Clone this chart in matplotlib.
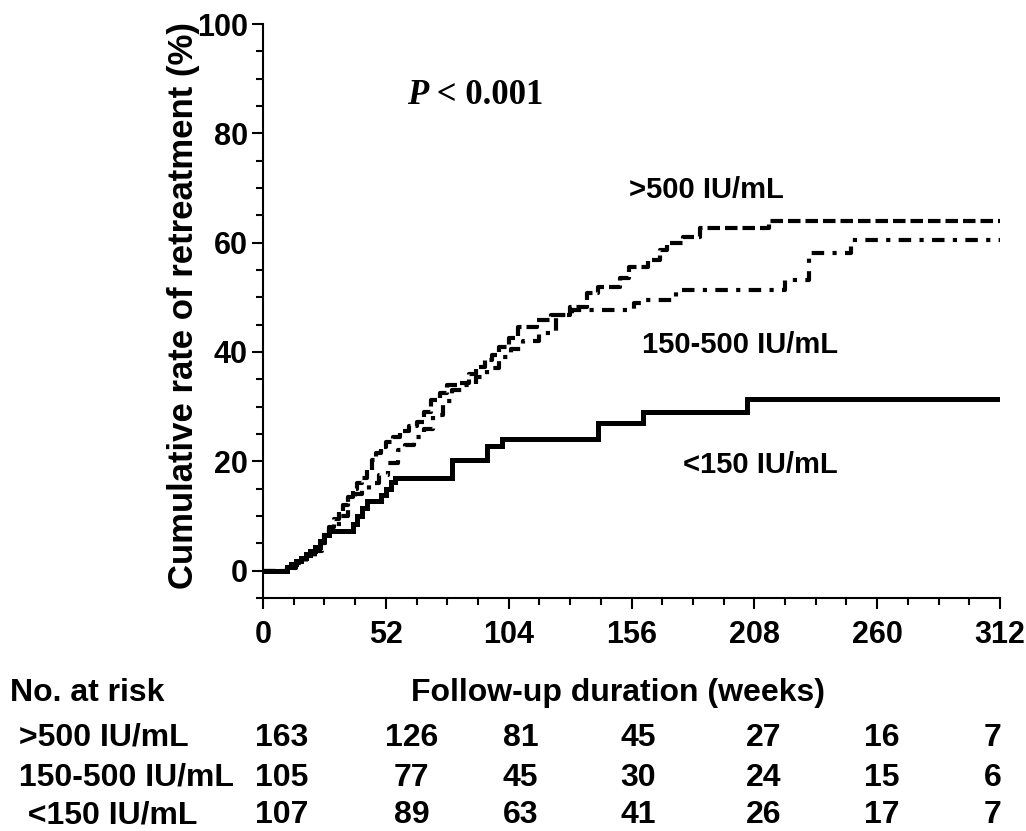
import matplotlib
matplotlib.use("Agg")
import matplotlib.pyplot as plt
from matplotlib.ticker import MultipleLocator

# step points of the cumulative curves (weeks, %)
t_high = [0, 10, 14, 18, 22, 24, 26, 28, 30, 32, 34, 36, 38, 40, 42, 44, 46, 48, 50, 52,
          55, 58, 62, 65, 68, 71, 75, 78, 82, 87, 90, 94, 97, 100, 104, 108, 116, 122,
          130, 137, 142, 151, 155, 163, 168, 171, 178, 185, 214, 312]
y_high = [0, 0.6, 1.5, 2.6, 3.8, 5.0, 6.5, 8.0, 9.5, 11.0, 12.0, 13.5, 15.0, 16.0, 17.0,
          18.5, 20.2, 21.5, 22.6, 23.5, 24.5, 25.5, 26.5, 27.2, 29.0, 31.2, 32.5, 33.9,
          34.3, 36.0, 37.3, 38.5, 39.5, 41.0, 42.5, 44.6, 45.8, 46.7, 48.3, 50.8, 51.9,
          53.5, 55.6, 56.8, 58.6, 59.9, 61.0, 62.6, 63.9, 63.9]

t_mid = [0, 10, 14, 18, 22, 25, 28, 30, 33, 36, 39, 42, 45, 49, 53, 57, 60, 64, 68, 72,
         76, 80, 85, 90, 95, 100, 105, 110, 117, 124, 131, 157, 160, 175, 221, 231, 249, 312]
y_mid = [0, 0.5, 1.4, 2.5, 3.6, 5.0, 7.5, 8.5, 10.0, 13.3, 14.0, 14.7, 16.0, 17.5, 19.7,
         22.0, 23.0, 24.4, 26.0, 28.5, 31.0, 33.0, 34.0, 35.5, 37.0, 39.0, 40.5, 42.0,
         43.5, 46.7, 47.7, 49.0, 49.5, 51.3, 53.1, 58.1, 60.5, 60.5]

t_low = [0, 10, 12, 14, 16, 18, 20, 22, 24, 26, 28, 38, 40, 42, 44, 50, 52, 54, 56, 80,
         95, 101, 142, 161, 205, 312]
y_low = [0, 0.6, 1.2, 1.8, 2.4, 3.0, 3.6, 4.3, 5.5, 6.5, 7.3, 8.5, 10.0, 11.5, 12.7, 13.8,
         15.0, 16.2, 16.9, 20.2, 22.8, 24.0, 27.0, 29.0, 31.4, 31.4]

groups = [">500 IU/mL", "150-500 IU/mL", "<150 IU/mL"]
risk_weeks = [0, 52, 104, 156, 208, 260, 312]
risk_high = [163, 126, 81, 45, 27, 16, 7]
risk_mid = [105, 77, 45, 30, 24, 15, 6]
risk_low = [107, 89, 63, 41, 26, 17, 7]

sans = "Liberation Sans"
serif = "Liberation Serif"

fig = plt.figure(figsize=(10.26, 8.31), dpi=100)
ax = fig.add_axes([263 / 1026, 1 - 598 / 831, 737 / 1026, 574 / 831])

ax.step(t_high, y_high, where="post", color="black", lw=3, linestyle=(0, (3, 1.2)))
ax.step(t_mid, y_mid, where="post", color="black", lw=3, linestyle=(0, (3, 2, 1, 2)))
ax.step(t_low, y_low, where="post", color="black", lw=3.6, solid_joinstyle="miter")

ax.set_xlim(0, 312)
ax.set_ylim(-5, 100)
ax.set_xticks(risk_weeks)
ax.xaxis.set_minor_locator(MultipleLocator(13))
ax.set_yticks([0, 20, 40, 60, 80, 100])
ax.yaxis.set_minor_locator(MultipleLocator(5))

for s in ["top", "right"]:
    ax.spines[s].set_visible(False)
for s in ["left", "bottom"]:
    ax.spines[s].set_linewidth(1.5)
ax.tick_params(which="major", length=8, width=1.5, labelsize=22)
ax.tick_params(which="minor", length=5, width=1.5)
ax.tick_params(axis="x", pad=8)
ax.tick_params(axis="y", pad=3)
for lab in ax.get_xticklabels() + ax.get_yticklabels():
    lab.set_fontfamily(sans)
    lab.set_fontweight("bold")

ax.set_ylabel("Cumulative rate of retreatment (%)", fontsize=25, fontweight="bold",
              family=sans)
ax.yaxis.set_label_coords(-0.086, 0.51)

# curve labels
ax.text(155, 69.6, groups[0], fontsize=21, fontweight="bold", family=sans, va="center")
ax.text(160.5, 41.2, groups[1], fontsize=21, fontweight="bold", family=sans, va="center")
ax.text(178, 19.3, groups[2], fontsize=21, fontweight="bold", family=sans, va="center")

# p value
p1 = ax.text(61, 87, "P", fontsize=25, fontweight="bold", fontstyle="italic",
             family=serif, va="center")
ax.annotate(" < 0.001", xy=(1, 0.5), xycoords=p1, va="center", ha="left",
            fontsize=25, fontweight="bold", family=serif)

# x label and risk table
fs = 23
fig.text(618 / 1026, 1 - 693 / 831, "Follow-up duration (weeks)", fontsize=fs,
         fontweight="bold", family=sans, ha="center", va="center")
fig.text(10 / 1026, 1 - 693 / 831, "No. at risk", fontsize=fs, fontweight="bold",
         family=sans, ha="left", va="center")

col_x = [8, 63, 109, 159, 212, 262, 309]
row_y = [738, 778, 815]
row_lab = [" " + groups[0], " " + groups[1], "  " + groups[2]]
for lab, vals, yy in zip(row_lab, [risk_high, risk_mid, risk_low], row_y):
    yf = 1 - yy / 831
    fig.text(10 / 1026, yf, lab, fontsize=fs, fontweight="bold", family=sans,
             ha="left", va="center")
    for cx, v in zip(col_x, vals):
        xf = (263 + cx * 737 / 312) / 1026
        fig.text(xf, yf, str(v), fontsize=fs, fontweight="bold", family=sans,
                 ha="center", va="center")

fig.savefig("out.png", dpi=100)
